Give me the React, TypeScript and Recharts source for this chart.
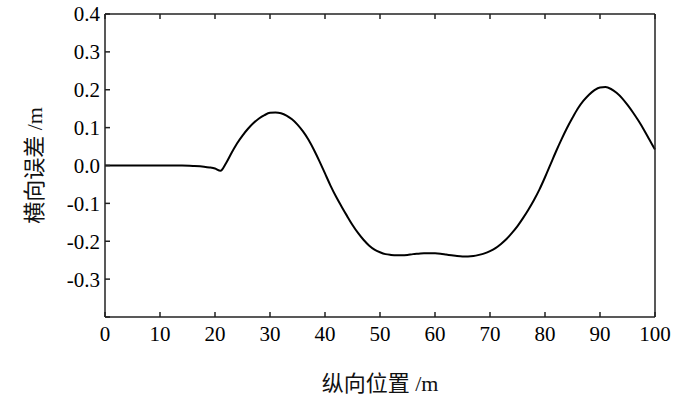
import { Line, LineChart, XAxis, YAxis } from "recharts";

const positions = [
  0, 5, 10, 14, 16, 18, 19, 20, 21, 22, 23, 24, 25, 26, 27, 28, 29, 30, 31, 32, 33, 34, 35, 36, 37, 38,
  39, 40, 41, 42, 43, 44, 45, 46, 47, 48, 49, 50, 51, 52, 53, 54, 55, 56, 57, 58, 59, 60, 61, 62, 63,
  64, 65, 66, 67, 68, 69, 70, 71, 72, 73, 74, 75, 76, 77, 78, 79, 80, 81, 82, 83, 84, 85, 86, 87, 88,
  89, 90, 91, 92, 93, 94, 95, 96, 97, 98, 99, 100,
];

const lateralError = [
  0, 0, 0, 0, -0.001, -0.003, -0.005, -0.008, -0.014, 0.006, 0.033, 0.058, 0.079, 0.097, 0.112, 0.124,
  0.133, 0.139, 0.14, 0.138, 0.132, 0.122, 0.108, 0.09, 0.068, 0.041, 0.011, -0.021, -0.053, -0.082,
  -0.108, -0.133, -0.157, -0.178, -0.196, -0.211, -0.222, -0.229, -0.234, -0.236, -0.237, -0.237, -0.236,
  -0.234, -0.233, -0.232, -0.232, -0.232, -0.233, -0.235, -0.237, -0.239, -0.24, -0.24, -0.239, -0.236,
  -0.232, -0.226, -0.218, -0.207, -0.194, -0.178, -0.16, -0.139, -0.116, -0.091, -0.063, -0.031, 0.003,
  0.037, 0.069, 0.099, 0.126, 0.151, 0.171, 0.187, 0.199, 0.206, 0.207, 0.202, 0.192, 0.178, 0.16, 0.14,
  0.118, 0.094, 0.068, 0.042,
];

const xTicks = [0, 10, 20, 30, 40, 50, 60, 70, 80, 90, 100];
const yTicks = [-0.4, -0.3, -0.2, -0.1, 0, 0.1, 0.2, 0.3, 0.4];

const chartData = positions.map((x, i) => ({ x, err: lateralError[i] }));

const tickFont = { fontFamily: "'Liberation Serif', 'Times New Roman', serif", fontSize: 21, fill: "#000" };
const labelFont = "'Liberation Serif', 'Noto Sans CJK SC', sans-serif";
const axisColor = "#222";

const blank = () => "";

export default function App() {
  return (
    <div style={{ position: "absolute", left: 0, top: 0, width: 700, height: 395, background: "#fff" }}>
      <LineChart width={700} height={395} data={chartData} margin={{ top: 13, right: 44, bottom: 0, left: 0 }}>
        <XAxis
          xAxisId="bottom"
          dataKey="x"
          type="number"
          domain={[0, 100]}
          ticks={xTicks}
          height={78}
          tickSize={-5}
          tickMargin={14}
          tick={tickFont}
          stroke={axisColor}
          strokeWidth={1.5}
          label={{
            value: "纵向位置 /m",
            position: "center",
            dy: 27,
            style: { fontFamily: labelFont, fontSize: 22, fill: "#111" },
          }}
        />
        <XAxis
          xAxisId="top"
          orientation="top"
          dataKey="x"
          type="number"
          domain={[0, 100]}
          ticks={xTicks}
          height={1}
          tickSize={-5}
          tickFormatter={blank}
          stroke={axisColor}
          strokeWidth={1.5}
        />
        <YAxis
          yAxisId="left"
          type="number"
          domain={[-0.4, 0.4]}
          ticks={yTicks}
          width={105}
          tickSize={-5}
          tickMargin={10}
          tick={tickFont}
          tickFormatter={(v: number) => (v === -0.4 ? "" : v.toFixed(1))}
          stroke={axisColor}
          strokeWidth={1.5}
          label={{
            value: "横向误差 /m",
            angle: -90,
            position: "center",
            dx: -18,
            style: { fontFamily: labelFont, fontSize: 22, fill: "#111", textAnchor: "middle" },
          }}
        />
        <YAxis
          yAxisId="right"
          orientation="right"
          type="number"
          domain={[-0.4, 0.4]}
          ticks={yTicks}
          width={1}
          tickSize={-5}
          tickFormatter={blank}
          stroke={axisColor}
          strokeWidth={1.5}
        />
        <Line
          xAxisId="bottom"
          yAxisId="left"
          type="monotone"
          dataKey="err"
          stroke="#000"
          strokeWidth={2}
          dot={false}
          isAnimationActive={false}
        />
      </LineChart>
    </div>
  );
}
